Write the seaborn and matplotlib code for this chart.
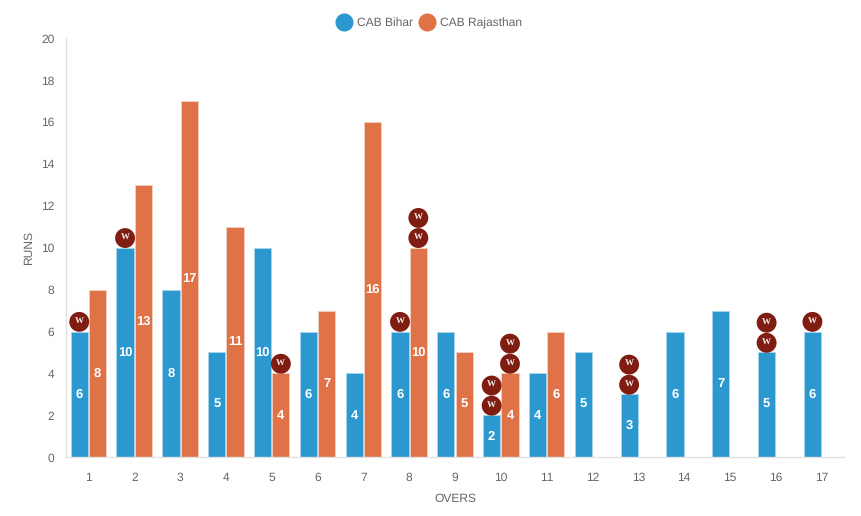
import numpy as np
import pandas as pd
import seaborn as sns
import matplotlib
matplotlib.use("Agg")
import matplotlib.pyplot as plt
from matplotlib.lines import Line2D

overs = list(range(1, 18))
bihar_runs = [6, 10, 8, 5, 10, 6, 4, 6, 6, 2, 4, 5, 3, 6, 7, 5, 6]
rajasthan_runs = [8, 13, 17, 11, 4, 7, 16, 10, 5, 4, 6, None, None, None, None, None, None]
bihar_wickets = [1, 1, 0, 0, 0, 0, 0, 1, 0, 2, 0, 0, 2, 0, 0, 2, 1]
rajasthan_wickets = [0, 0, 0, 0, 1, 0, 0, 2, 0, 2, 0, 0, 0, 0, 0, 0, 0]
teams = ["CAB Bihar", "CAB Rajasthan"]
team_colors = ["#2b98cf", "#e07248"]
edge_colors = ["#a6d5ec", "#f3cdbd"]

sns.set_theme(style="white")
plt.rcParams["font.family"] = ["Liberation Sans", "DejaVu Sans"]
plt.rcParams["text.hinting"] = "no_hinting"
plt.rcParams["text.hinting_factor"] = 1
GREY = "#666666"

df = pd.DataFrame({
    "over": overs * 2,
    "runs": bihar_runs + rajasthan_runs,
    "team": [teams[0]] * len(overs) + [teams[1]] * len(overs),
})

fig = plt.figure(figsize=(8.61, 5.16), dpi=100)
W, H = 861, 516
ax = fig.add_axes([65.5 / W, 1 - 457.2 / H, (844.5 - 65.5) / W, (457.2 - 38.2) / H])

sns.barplot(data=df, x="over", y="runs", hue="team", hue_order=teams,
            palette=team_colors, width=0.8, gap=0.06, saturation=1,
            legend=False, ax=ax)

ax.set_xlim(-0.5, 16.5)
ax.set_ylim(0, 20)
ax.set_yticks(range(0, 21, 2))
ax.set_xlabel("OVERS", fontsize=8.6, color=GREY, labelpad=6.5)
ax.set_ylabel("RUNS", fontsize=8.6, color=GREY, labelpad=5)
ax.tick_params(axis="both", length=0, labelsize=8.8, labelcolor=GREY)
ax.tick_params(axis="x", pad=11)
ax.tick_params(axis="y", pad=8)
for side in ("top", "right"):
    ax.spines[side].set_visible(False)
for side in ("left", "bottom"):
    ax.spines[side].set_color("#e2e2e2")
    ax.spines[side].set_linewidth(1)

for cont, edge, wickets in zip(ax.containers, edge_colors, [bihar_wickets, rajasthan_wickets]):
    for bar, n in zip(cont.patches, wickets):
        h = bar.get_height()
        if not np.isfinite(h) or h == 0:
            continue
        bar.set_edgecolor(edge)
        bar.set_linewidth(0.7)
        cx = bar.get_x() + bar.get_width() / 2
        ax.text(cx, h / 2, f"{int(h)}", ha="center", va="center",
                color="white", fontsize=9, fontweight="bold", zorder=4)
        for k in range(n):
            wy = h + 0.46 + 0.96 * k
            ax.scatter([cx], [wy], s=205, color="#7f1d13", edgecolors="none",
                       zorder=5, clip_on=False)
            ax.text(cx, wy + 0.02, "W", ha="center", va="center", color="#f5eeee",
                    fontsize=6.6, fontweight="bold", family="Liberation Serif", zorder=6)

handles = [Line2D([], [], marker="o", linestyle="none", markersize=13,
                  markerfacecolor=c, markeredgecolor="none") for c in team_colors]
fig.legend(handles, teams, loc="center", bbox_to_anchor=(429 / W, 1 - 23 / H),
           ncol=2, frameon=False, fontsize=8.8, labelcolor=GREY,
           handletextpad=0.35, columnspacing=0.45, handlelength=1.4)

fig.savefig("out.png", dpi=100)
